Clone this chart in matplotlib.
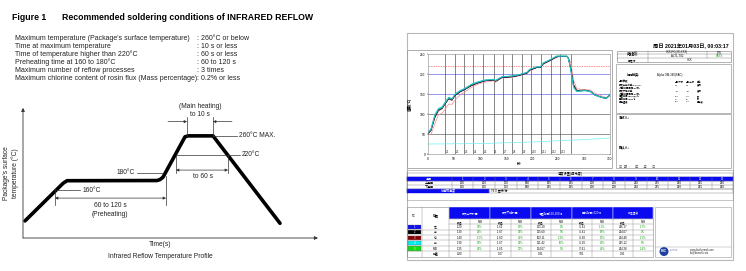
import numpy as np
import matplotlib
matplotlib.use("Agg")
from matplotlib import pyplot as plt
from matplotlib.patches import Rectangle, Circle

plt.rcParams['font.family'] = ['Liberation Sans', 'Noto Sans CJK SC', 'DejaVu Sans']

# ---------------- data: left page (datasheet figure) ----------------
cond_labels = ["Maximum temperature (Package's surface temperature)",
               "Time at maximum temperature",
               "Time of temperature higher than 220°C",
               "Preheating time at 160 to 180°C",
               "Maximum number of reflow processes",
               "Maximum chlorine content of rosin flux (Mass percentage)"]
cond_values = [": 260°C or below", ": 10 s or less", ": 60 s or less",
               ": 60 to 120 s", ": 3 times", ": 0.2% or less"]

# schematic profile (arbitrary time units, °C)
prof_t = [2, 40, 44, 134, 137, 140, 162, 165, 190, 257]
prof_T = [81, 160, 165.6, 166, 168, 173, 258, 260, 260, 76]

# ---------------- data: right page (oven report) ----------------
run_t = [0, 6, 13, 20, 27, 33, 40, 46, 52, 62, 72, 84, 97, 110, 126, 130, 142, 161, 174, 190,
         196, 209, 216, 222, 232, 248, 257, 267, 270, 275, 280, 286, 302, 312, 321, 334, 343, 350]
tc_blue = [52, 61, 94, 111, 115, 127, 140, 136, 148, 157, 163, 173, 179, 184, 186, 183, 192, 194, 197, 203,
           211, 217, 217, 227, 233, 244, 244, 244, 238, 207, 169, 157, 159, 157, 148, 142, 140, 150]
tc_black = [51, 60, 92, 110, 114, 126, 139, 135, 147, 156, 162, 172, 178, 183, 185, 182, 191, 193, 196, 202,
            210, 216, 216, 226, 232, 243, 244, 244, 239, 210, 172, 158, 159, 156, 147, 141, 139, 148]
tc_red = [50, 59, 90, 108, 113, 125, 138, 134, 146, 155, 162, 171, 178, 183, 185, 182, 191, 193, 196, 202,
          210, 216, 216, 226, 232, 243, 244, 244, 240, 212, 174, 159, 160, 157, 148, 142, 139, 147]
tc_cyan = [54, 64, 98, 114, 118, 130, 142, 138, 150, 159, 165, 175, 181, 185, 187, 184, 193, 195, 198, 204,
           212, 218, 218, 228, 234, 245, 245, 245, 240, 205, 166, 156, 158, 156, 147, 141, 139, 149]
tc_green = [53, 62, 96, 112, 116, 128, 141, 137, 149, 158, 164, 174, 180, 185, 186, 184, 193, 195, 198, 204,
            212, 218, 218, 228, 234, 245, 245, 245, 239, 208, 168, 157, 159, 156, 147, 142, 140, 149]
tc_lag = [48, 50, 75, 98, 102, 112, 125, 124, 135, 148, 156, 167, 175, 180, 183, 179, 190, 192, 195, 201,
          208, 216, 216, 224, 231, 242, 244, 244, 242, 226, 185, 163, 161, 160, 152, 145, 141, 145]
low_t = [0, 100, 200, 300, 350]
low_T = [25, 26, 30, 36, 40]
zone_bounds = [33, 52, 70, 87, 106, 126, 144, 162, 180, 198, 217, 236, 254, 275]
zone_names = ["Z1", "Z2", "Z3", "Z4", "Z5", "Z6", "Z7", "Z8", "Z9", "Z10", "Z11", "Z12", "Z13"]

zone_ids = [str(i) for i in range(1, 14)]
zone_upper = [130, 150, 170, 180, 195, 195, 200, 200, 210, 235, 250, 255, 250]
zone_lower = [130, 150, 170, 180, 195, 195, 200, 200, 210, 235, 250, 255, 250]
belt_speed = "78.0 厘米/分"

info_rows = [["炉子名称:", "XXX-RC(2X-XXX)", "P/N"],
             ["产品名称:", "ALT1-T02", "PASS"],
             ["工程师", "XXX", ""]]
spec_rows = [["规格参数", "规格下限", "规格上限", "单位"],
             ["最大上升斜率(1.0-4.0)", "1.0", "3.0", "度/秒"],
             ["(计算时间间隔:20秒)", "", "", ""],
             ["最大下降斜率", "-3.0", "-1.0", "度/秒"],
             ["(计算时间间隔:20秒)", "", "", ""],
             ["恒温时间150-200℃", "100", "120", "秒"],
             ["回流时间>220℃", "45", "90", "秒"],
             ["峰值温度", "240", "250", "摄氏度"]]

stat_groups = ["最大上升斜率", "最大下降斜率", "恒温时间150-200℃", "回流时间>220℃", "峰值温度"]
tc_colors = ['#1010ee', '#000000', '#8b0000', '#00f0f0', '#10e010']
tc_pos = ["左", "中", "右", "前", "MID"]
stat_vals = [["1.20", "22%", "-1.62", "28%", "115.20", "2%", "75.61", "-11%", "246.17", "-17%"],
             ["1.30", "38%", "-1.67", "33%", "115.60", "0%", "75.61", "18%", "244.07", "2%"],
             ["1.40", "-15%", "-1.60", "40%", "102.11", "-13%", "75.60", "12%", "244.48", "-11%"],
             ["1.30", "28%", "-1.67", "33%", "111.42", "16%", "75.90", "28%", "245.12", "3%"],
             ["1.35", "34%", "-1.65", "35%", "114.07", "5%", "77.61", "48%", "244.28", "-14%"]]
stat_range = ["0.20", "0.07", "0.31", "7.81", "0.91"]

W, H = 746, 271
fig = plt.figure(figsize=(W / 100, H / 100), dpi=100)

def px_axes(l, t, r, b):
    return fig.add_axes([l / W, 1 - b / H, (r - l) / W, (b - t) / H])

# background canvas in pixel units for page furniture
bg = px_axes(0, 0, W, H)
bg.set_xlim(0, W)
bg.set_ylim(H, 0)
bg.axis('off')

def box(l, t, r, b, fc='none', ec='#9a9a9a', lw=0.5):
    bg.add_patch(Rectangle((l, t), r - l, b - t, facecolor=fc, edgecolor=ec, lw=lw))

def txt(x, y, s, size=2.3, ha='center', color='black', weight='normal'):
    bg.text(x, y, s, fontsize=size, ha=ha, va='center', color=color, fontweight=weight)

# ---------------- left page ----------------
txt(12, 18, "Figure 1", size=6.3, ha='left', weight='bold')
txt(62, 18, "Recommended soldering conditions of INFRARED REFLOW", size=6.3, ha='left', weight='bold')
for i, (lab, val) in enumerate(zip(cond_labels, cond_values)):
    y = 38 + i * 8
    txt(15, y, lab, size=5, ha='left', color='#222222')
    txt(197, y, val, size=5, ha='left', color='#222222')

txt(160, 245, "Time(s)", size=4.8, color='#222222')
txt(160, 256, "Infrared Reflow Temperature Profile", size=4.8, color='#222222')
bg.text(11, 173, "Package's surface\ntemperature (°C)", fontsize=4.8, rotation=90,
        ha='center', va='center', color='#222222', linespacing=1.3)

ax = px_axes(23, 105, 318, 238)
ax.set_xlim(0, 295)
ax.set_ylim(45, 325)
ax.axis('off')
ax.plot(prof_t, prof_T, color='black', lw=2.6, solid_joinstyle='round', solid_capstyle='round')

axis_arrow = dict(arrowstyle='-|>', lw=0.6, color='#333333', shrinkA=0, shrinkB=0, mutation_scale=5)
ax.annotate('', xy=(295, 45), xytext=(0, 45), arrowprops=axis_arrow, annotation_clip=False)
ax.annotate('', xy=(0, 319), xytext=(0, 45), arrowprops=axis_arrow, annotation_clip=False)

thin = dict(color='#333333', lw=0.5)
small_arrow = dict(arrowstyle='<|-|>', lw=0.5, color='#333333', shrinkA=0, shrinkB=0, mutation_scale=4)
one_arrow = dict(arrowstyle='-|>', lw=0.5, color='#333333', shrinkA=0, shrinkB=0, mutation_scale=4)
lab = dict(fontsize=4.8, color='#222222', va='center')

# 260 / main heating
ax.plot([190, 214], [260, 260], **thin)
ax.text(216, 260, "260°C MAX.", ha='left', **lab)
ax.plot([164, 164], [260, 300], **thin)
ax.plot([190, 190], [260, 300], **thin)
ax.annotate('', xy=(164, 290), xytext=(145, 290), arrowprops=one_arrow)
ax.annotate('', xy=(190, 290), xytext=(209, 290), arrowprops=one_arrow)
ax.text(177, 321, "(Main heating)", ha='center', **lab)
ax.text(177, 304, "to 10 s", ha='center', **lab)

# 220 / 60 s
ax.plot([153, 217], [220, 220], **thin)
ax.text(219, 220, "220°C", ha='left', **lab)
ax.plot([153, 153], [220, 182], **thin)
ax.plot([205, 205], [220, 182], **thin)
ax.annotate('', xy=(205, 188), xytext=(153, 188), arrowprops=small_arrow)
ax.text(180, 175, "to 60 s", ha='center', **lab)

# 180 / 160 / preheating
ax.plot([114, 140], [182, 182], **thin)
ax.text(112, 182, "180°C", ha='right', **lab)
ax.plot([33, 57], [146, 146], **thin)
ax.text(60, 146, "160°C", ha='left', **lab)
ax.plot([32, 32], [148, 114], **thin)
ax.plot([143, 143], [176, 114], **thin)
ax.annotate('', xy=(143, 129), xytext=(32, 129), arrowprops=small_arrow)
ax.text(87, 113, "60 to 120 s", ha='center', **lab)
ax.text(87, 95, "(Preheating)", ha='center', **lab)

# ---------------- right page: report ----------------
box(407, 33, 733, 260, ec='#b8b8b8', lw=0.8)
txt(729, 46, "周日 2021年01月03日, 00:03:17", size=3.8, ha='right', weight='bold')
box(407, 50, 612, 168, ec='#a0a0a0', lw=0.6)

# info table
cols = [617, 648, 707, 731]
rows = [50.7, 54.3, 58, 61.7]
box(cols[0], rows[0], cols[-1], rows[-1], ec='#777777', lw=0.4)
for y in rows[1:-1]:
    bg.plot([cols[0], cols[-1]], [y, y], color='#777777', lw=0.3)
for x in cols[1:-1]:
    bg.plot([x, x], [rows[0], rows[2]], color='#777777', lw=0.3)
bg.plot([cols[1], cols[1]], [rows[2], rows[3]], color='#777777', lw=0.3)
for i, r in enumerate(info_rows):
    yc = (rows[i] + rows[i + 1]) / 2
    txt((cols[0] + cols[1]) / 2, yc, r[0], size=2.0)
    if i < 2:
        txt((cols[1] + cols[2]) / 2, yc, r[1], size=2.0)
        txt((cols[2] + cols[3]) / 2, yc, r[2], size=2.0, color='#10a010' if r[2] == "PASS" else 'black')
    else:
        txt((cols[1] + cols[3]) / 2, yc, r[1], size=2.0)

box(616, 63.5, 731, 113, ec='#9a9a9a', lw=0.5)
txt(627, 75, "焊锡种类:", size=2.2, ha='left', weight='bold')
txt(657, 75, "Alpha OM-340(SAC)", size=2.0, ha='left')
spec_y = [81.7, 85, 87.7, 91, 94, 96.7, 99.3, 102]
for y, r in zip(spec_y, spec_rows):
    txt(619, y, r[0], size=1.7, ha='left', weight='bold')
    txt(675, y, r[1], size=1.6, ha='left')
    txt(686, y, r[2], size=1.6, ha='left')
    txt(697, y, r[3], size=1.6, ha='left', weight='bold')
box(616, 114, 731, 168, ec='#9a9a9a', lw=0.5)
txt(619, 117.5, "测试人:", size=2.3, ha='left', weight='bold')
txt(619, 148, "确认人:", size=2.3, ha='left', weight='bold')
txt(619, 166.5, "日  期  :      年      月      日", size=2.3, ha='left', color='#555555')

# temperature chart
ch = px_axes(428, 54, 610, 154)
ch.set_xlim(0, 350)
ch.set_ylim(0, 250)
ch.set_xticks(range(0, 351, 50))
ch.set_yticks(range(0, 251, 50))
ch.tick_params(labelsize=2.3, length=1, width=0.3, pad=1)
for s in ch.spines.values():
    s.set_linewidth(0.4)
    s.set_color('#888888')
for y, c in [(50, '#555555'), (100, '#555555'), (150, '#5a5ae0'), (200, '#5a5ae0')]:
    ch.axhline(y, color=c, lw=0.45)
ch.axhline(220, color='#ff6060', lw=0.5, ls=(0, (2, 1.5)))
for xb in zone_bounds:
    ch.axvline(xb, color='#444444', lw=0.45)
for xb, name in zip(zone_bounds, zone_names):
    ch.text(xb + 1.5, 6, name, fontsize=2.0, ha='left', va='center', color='#333333')
ch.plot(low_t, low_T, color='#70f0f0', lw=0.5)
ch.plot(run_t, tc_lag, color='#e89090', lw=0.5)
ch.plot(run_t, tc_red, color='#8b0000', lw=0.5)
ch.plot(run_t, tc_black, color='#000000', lw=0.5)
ch.plot(run_t, tc_blue, color='#3050e0', lw=0.55)
ch.plot(run_t, tc_green, color='#20c060', lw=0.55)
ch.plot(run_t, tc_cyan, color='#20c8d8', lw=0.6)
ch.set_xlabel("秒", fontsize=2.6, labelpad=1, fontweight='bold')
ch.set_ylabel("温度(℃)", fontsize=2.6, fontweight='bold')
ch.yaxis.set_label_coords(-0.088, 0.5)

# zone setting table
box(407, 170, 733, 200, ec='#9a9a9a', lw=0.4)
txt(570, 174.3, "温度设置(摄氏度)", size=2.3)
zx = [407, 451.7] + [451.7 + 21.66 * (i + 1) for i in range(13)]
zy = [172.5, 176.7, 180.7, 184.7, 188.7, 192.7]
box(407, zy[0], 733, zy[1], ec='#777777', lw=0.3)
box(407, zy[1], 733, zy[2], fc='#0a0af0', ec='#0a0af0', lw=0.3)
for y in zy[2:5]:
    bg.plot([407, 733], [y, y], color='#777777', lw=0.3)
for x in zx:
    bg.plot([x, x], [zy[1], zy[4]], color='#777777', lw=0.3)
bg.plot([407, 407], [zy[4], zy[5]], color='#777777', lw=0.3)
txt((zx[0] + zx[1]) / 2, (zy[1] + zy[2]) / 2, "温区", size=2.2, color='white')
txt((zx[0] + zx[1]) / 2, (zy[2] + zy[3]) / 2, "上温区", size=2.2)
txt((zx[0] + zx[1]) / 2, (zy[3] + zy[4]) / 2, "下温区", size=2.2)
for i in range(13):
    xc = (zx[i + 1] + zx[i + 2]) / 2
    txt(xc, (zy[1] + zy[2]) / 2, zone_ids[i], size=2.2, color='white')
    txt(xc, (zy[2] + zy[3]) / 2, str(zone_upper[i]), size=2.2)
    txt(xc, (zy[3] + zy[4]) / 2, str(zone_lower[i]), size=2.2)
box(407, zy[4], 489.3, zy[5], fc='#0a0af0', ec='#0a0af0', lw=0.3)
box(489.3, zy[4], 733, zy[5], ec='#777777', lw=0.3)
txt(448, (zy[4] + zy[5]) / 2, "传送带速度", size=2.2, color='white')
txt(491, (zy[4] + zy[5]) / 2, belt_speed, size=2.2, ha='left')

# statistics table
sx = [449.3 + 20.4 * i for i in range(11)]
top, mid, hdr = 207, 219.3, 224.2
rh = 5.42
bottom = hdr + 6 * rh
box(407, top, 653.3, bottom, ec='#888888', lw=0.4)
for g in range(5):
    box(sx[2 * g], top, sx[2 * g + 2], mid, fc='#0a0af0', ec='white', lw=0.3)
    txt((sx[2 * g] + sx[2 * g + 2]) / 2, (top + mid) / 2, stat_groups[g], size=2.0, color='white')
    txt((sx[2 * g] + sx[2 * g + 1]) / 2, (mid + hdr) / 2, "数值", size=2.0)
    txt((sx[2 * g + 1] + sx[2 * g + 2]) / 2, (mid + hdr) / 2, "PWI", size=2.0)
txt(414.3, (top + hdr) / 2, "TC", size=2.2)
txt(435.5, (top + hdr) / 2, "位置", size=2.2, weight='bold')
for x in [421.7, 449.3]:
    bg.plot([x, x], [top, bottom], color='#888888', lw=0.3)
for x in sx[1:-1]:
    bg.plot([x, x], [mid, bottom], color='#888888', lw=0.3)
for k in range(7):
    y = hdr + k * rh if k < 6 else mid
    bg.plot([407 if k > 0 and k < 6 else 449.3, 653.3], [y, y], color='#888888', lw=0.3)
for i in range(5):
    y0 = hdr + i * rh
    yc = y0 + rh / 2
    box(407.8, y0 + 0.6, 421, y0 + rh - 0.6, fc=tc_colors[i], ec='#555555', lw=0.2)
    txt(414.3, yc, str(i + 1), size=2.0, color='white')
    txt(435.5, yc, tc_pos[i], size=2.0)
    for j, v in enumerate(stat_vals[i]):
        col = '#10a010' if j % 2 == 1 else 'black'
        txt((sx[j] + sx[j + 1]) / 2, yc, v, size=2.0, color=col)
yc = hdr + 5 * rh + rh / 2
txt(435.5, yc, "极差", size=2.1, weight='bold')
for g in range(5):
    txt((sx[2 * g] + sx[2 * g + 1]) / 2, yc, stat_range[g], size=2.0)

# logo box
box(655, 207, 731, 257, ec='#999999', lw=0.4)
bg.plot([655, 731], [246.7, 246.7], color='#999999', lw=0.3)
bg.add_patch(Circle((664, 251.5), 4.5, facecolor='#2040a0', edgecolor='none'))
txt(664, 251.5, "KIC", size=2.6, color='white', weight='bold')
txt(670, 250, "Thermal\nProfiling", size=1.6, ha='left', color='#7080b0')
txt(690, 249.8, "www.kicthermal.com", size=1.9, ha='left', color='#333333')
txt(690, 252.8, "kic@kicmail.com", size=1.9, ha='left', color='#333333')

fig.savefig("out.png", dpi=100)
